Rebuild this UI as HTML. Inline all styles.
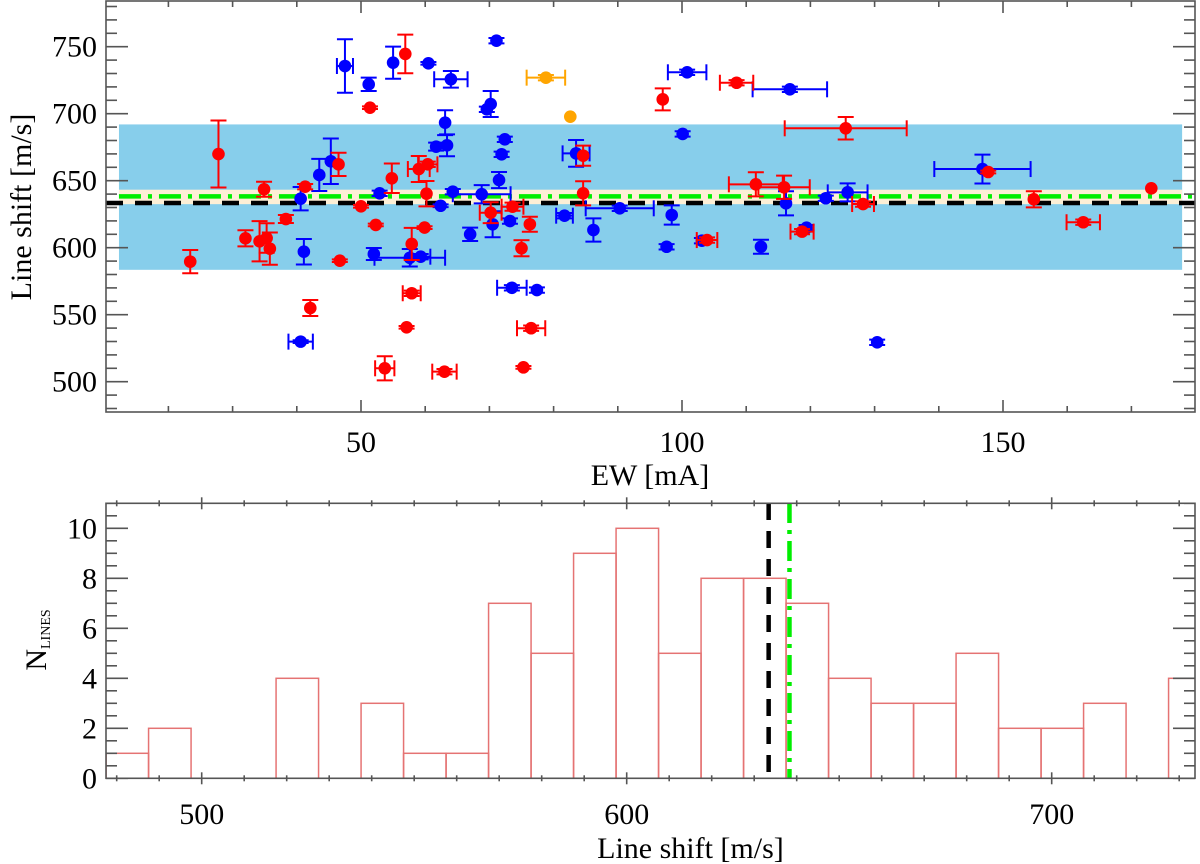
<!DOCTYPE html>
<html><head><meta charset="utf-8"><style>
html,body{margin:0;padding:0;background:#fff;}
svg{display:block;font-family:"Liberation Serif",serif;}
</style></head><body>
<svg id="fig" width="1200" height="864" viewBox="0 0 1200 864">
<defs>
<clipPath id="clipTop"><rect x="106" y="1" width="1089" height="411"/></clipPath>
<clipPath id="clipBot"><rect x="106" y="503" width="1089" height="276"/></clipPath>
</defs>
<g id="topG"></g>
<g id="botG"></g>
</svg>
<script>
// ---- scatter data (EW [mA], line shift [m/s], errors) ----
const blueEW    = [40.6,41.1,40.6,43.5,45.3,47.5,51.2,52.0,52.9,55.0,60.5,64.0,71.1,70.2,69.6,63.1,61.7,63.4,72.4,71.9,71.5,83.5,64.3,68.8,62.4,73.2,70.5,81.7,86.2,67.0,57.6,59.3,73.5,77.4,100.8,116.8,100.1,90.3,98.4,116.2,122.4,125.8,119.4,97.6,103.1,112.3,130.4,146.8];
const blueShift = [636.6,597,529.9,654.3,664.5,735.6,721.9,595.3,640.6,738.1,737.6,725.7,754.5,707.2,703.3,693.3,675.4,676.4,680.9,669.7,650.5,670.4,641.8,639.9,631.3,619.9,617.5,623.9,613.2,610,592.5,593.3,570.1,568.4,730.9,718.2,684.9,629.4,624.4,633.1,636.9,641.3,614.9,600.7,605.2,600.7,529.4,658.7];
const blueEWErr = [0,0,1.9,0,0,1.25,0,0,0,0,0,2.6,0,0,0,0,0,0,0,0,0,2.1,0,4.5,0,0,0,1.3,0,0,5.5,1.5,2.3,0,3,5.8,0,5.3,0,0,0,3.1,0,0,0,0,0,7.5];
const blueShErr = [8.7,9.5,1,12,17,20,5,4.5,2,12,1,6.2,2,9.7,2,9.3,3,8.2,2,2,6,10,2,6.8,1,2,9.7,2,8.7,5,6.5,2,2,2,2,2,2,2,7.2,9,2,6.7,2,2,2,5.2,2,10.8];

const redEW    = [23.4,27.8,34.9,32.0,34.2,35.3,35.8,38.3,41.3,42.1,46.5,46.7,51.4,50.0,52.3,53.7,54.8,56.9,59.0,60.4,60.2,84.6,84.6,70.2,73.6,76.3,59.9,57.9,75.0,57.9,57.1,76.5,63.0,75.3,108.5,97.0,125.5,111.5,115.9,128.2,118.7,103.9,147.7,154.8,162.5,173.1];
const redShift = [589.6,669.9,643.6,607,604.8,607.2,599.3,621.4,645.5,555,662.2,590.3,704.5,630.9,617,510,651.8,744.6,658.7,662.2,640.3,640.6,668.7,626.1,630.6,617.5,615,602.8,599.6,566,540.6,539.9,507.5,510.7,723.1,710.7,689.1,647.3,645.1,632.6,612,605.7,656.5,636.1,619,644.3];
const redEWErr = [0,0,0,0,0,0,0,0,0,0,0,0,0,0,0,1.5,0,0,1.7,1.5,0,0,0,1.7,1.7,0,0,0,0,1.4,0,2.2,1.9,0,2.6,0,9.5,4.2,4,1.7,1.8,1.6,0,0,2.6,0];
const redShErr = [8.7,25,5.6,6,15,11,12,3,2,6,8.7,1,1,1,1,9,11,14.4,9.7,2,9.5,9,7.5,7.8,3,5.6,1,12,6,2,1,2,2,1,2,8.2,8.4,9,8.7,2,2,2,1,6,2,0];

const orangeEW    = [78.8,82.6];
const orangeShift = [726.9,697.8];
const orangeEWErr = [3,0];
const orangeShErr = [2,0];

const meanShift = 633.4, medianShift = 638.3;
const bandLow = 583.5, bandHigh = 692, band2Low = 632.5, band2High = 643.3;

const xTickVals = [50,100,150];
const yTickVals = [500,550,600,650,700,750];

// ---- histogram data ----
const binStart = 477.5, binWidth = 10;
const binCounts = [1,2,0,0,4,0,3,1,1,7,5,9,10,5,8,8,7,4,3,3,5,2,2,3,0,4];
const hxTickVals = [500,600,700];
const hyTickVals = [0,2,4,6,8,10];

const NS = "http://www.w3.org/2000/svg";
function mk(parent, tag, attrs, text){
  const e = document.createElementNS(NS, tag);
  for (const k in attrs) e.setAttribute(k, attrs[k]);
  if (text !== undefined) e.textContent = text;
  parent.appendChild(e);
  return e;
}
const xs = e => 361 + (e - 50) * 6.42;
const ys = v => 46.7 + (750 - v) * 1.34;
const hx = v => 201.7 + (v - 500) * 4.25;
const hy = n => 778.3 - n * 25;

const topPanel = document.getElementById('topG');
const pl = mk(topPanel, 'g', {'clip-path':'url(#clipTop)'});



let r = mk(pl, 'rect', {x:xs(12.3), y:ys(bandHigh), width:xs(177.9)-xs(12.3), height:ys(bandLow)-ys(bandHigh), fill:'#87ceeb'});


r = mk(pl, 'rect', {x:xs(12.3), y:ys(band2High), width:xs(177.9)-xs(12.3), height:ys(band2Low)-ys(band2High), fill:'#fdefd6'});


let ln = mk(pl, 'line', {x1:106, x2:1195, y1:ys(meanShift), y2:ys(meanShift), stroke:'#000', 'stroke-width':4.5, 'stroke-dasharray':'17,12'});


ln = mk(pl, 'line', {x1:xs(12.3), x2:1195, y1:ys(medianShift), y2:ys(medianShift), stroke:'#00ee00', 'stroke-width':4.5, 'stroke-dasharray':'22,7,4,7'});



function series(ew, sh, ex, ey, col, name){
  const g = mk(pl, 'g', {});
  
  
  for (let i = 0; i < ew.length; i++){
    const cx = xs(ew[i]), cy = ys(sh[i]);
    const pg = mk(g, 'g', {stroke:col, 'stroke-width':2, fill:col});
    
    
    if (ey[i] > 0){
      const y1 = ys(sh[i] + ey[i]), y2 = ys(sh[i] - ey[i]);
      mk(pg, 'line', {x1:cx, x2:cx, y1:y1, y2:y2});
      mk(pg, 'line', {x1:cx-8, x2:cx+8, y1:y1, y2:y1});
      mk(pg, 'line', {x1:cx-8, x2:cx+8, y1:y2, y2:y2});
    }
    if (ex[i] > 0){
      const x1 = xs(ew[i] - ex[i]), x2 = xs(ew[i] + ex[i]);
      mk(pg, 'line', {x1:x1, x2:x2, y1:cy, y2:cy});
      mk(pg, 'line', {x1:x1, x2:x1, y1:cy-8, y2:cy+8});
      mk(pg, 'line', {x1:x2, x2:x2, y1:cy-8, y2:cy+8});
    }
    mk(pg, 'circle', {cx:cx, cy:cy, r:6.3, stroke:'none'});
  }
}
series(blueEW, blueShift, blueEWErr, blueShErr, '#0000ff', 'blue-series');
series(redEW, redShift, redEWErr, redShErr, '#ff0000', 'red-series');
series(orangeEW, orangeShift, orangeEWErr, orangeShErr, '#ffa500', 'orange-series');

const ax = mk(topPanel, 'g', {stroke:'#555', 'stroke-width':1.6, fill:'none'});


mk(ax, 'rect', {x:106, y:1, width:1089, height:411});
for (let v = 480; v <= 780; v += 10){
  const y = ys(v), L = (v % 50 === 0) ? 22 : 11;
  mk(ax, 'line', {x1:106, x2:106+L, y1:y, y2:y});
  mk(ax, 'line', {x1:1195, x2:1195-L, y1:y, y2:y});
}
for (let e = 20; e <= 170; e += 10){
  const x = xs(e), L = (e % 50 === 0) ? 12 : 6;
  mk(ax, 'line', {x1:x, x2:x, y1:412, y2:412-L});
  mk(ax, 'line', {x1:x, x2:x, y1:1, y2:1+L});
}
const tl = mk(topPanel, 'g', {'font-size':30, fill:'#000'});


yTickVals.forEach(v => {
  const e = mk(tl, 'text', {x:97, y:ys(v)+10, 'text-anchor':'end'}, String(v));
  
  
});
xTickVals.forEach(v => {
  const e = mk(tl, 'text', {x:xs(v), y:452, 'text-anchor':'middle'}, String(v));
  
  
});
let tx = mk(topPanel, 'text', {x:650, y:485, 'text-anchor':'middle', 'font-size':30}, 'EW [mA]');


tx = mk(topPanel, 'text', {x:0, y:0, 'text-anchor':'middle', 'font-size':30, transform:'translate(31,207) rotate(-90)'}, 'Line shift [m/s]');



// ---- histogram ----
const botPanel = document.getElementById('botG');
const hp = mk(botPanel, 'g', {'clip-path':'url(#clipBot)'});


binCounts.forEach((c, i) => {
  const x0 = hx(binStart + i * binWidth), x1 = hx(binStart + (i + 1) * binWidth);
  const b = mk(hp, 'rect', {x:x0, y:hy(c), width:x1-x0, height:hy(0)-hy(c), fill:'none', stroke:'#e57373', 'stroke-width':1.5});
  
  
});
ln = mk(hp, 'line', {x1:hx(meanShift), x2:hx(meanShift), y1:503, y2:778, stroke:'#000', 'stroke-width':4.5, 'stroke-dasharray':'17,11'});


ln = mk(hp, 'line', {x1:hx(medianShift), x2:hx(medianShift), y1:503, y2:778, stroke:'#00ee00', 'stroke-width':4.5, 'stroke-dasharray':'20,7,4,7'});



const bx = mk(botPanel, 'g', {stroke:'#555', 'stroke-width':1.6, fill:'none'});


mk(bx, 'rect', {x:106, y:503.3, width:1089, height:275});
for (let n = 0; n <= 11; n += 0.5){
  const y = hy(n), L = (n % 2 === 0) ? 22 : 11;
  mk(bx, 'line', {x1:106, x2:106+L, y1:y, y2:y});
  mk(bx, 'line', {x1:1195, x2:1195-L, y1:y, y2:y});
}
for (let v = 480; v <= 730; v += 10){
  const x = hx(v), L = (v % 100 === 0) ? 12 : 6;
  mk(bx, 'line', {x1:x, x2:x, y1:778.3+L/2, y2:778.3-L/2});
  mk(bx, 'line', {x1:x, x2:x, y1:503.3-L/2, y2:503.3+L/2});
}
const bl = mk(botPanel, 'g', {'font-size':30, fill:'#000'});


hyTickVals.forEach(v => {
  const e = mk(bl, 'text', {x:97, y:hy(v)+10, 'text-anchor':'end'}, String(v));
  
  
});
hxTickVals.forEach(v => {
  const e = mk(bl, 'text', {x:hx(v), y:824, 'text-anchor':'middle'}, String(v));
  
  
});
tx = mk(botPanel, 'text', {x:hx(615), y:858, 'text-anchor':'middle', 'font-size':30}, 'Line shift [m/s]');


tx = mk(botPanel, 'text', {x:0, y:0, 'text-anchor':'middle', 'font-size':30, transform:'translate(46,640) rotate(-90)'});


mk(tx, 'tspan', {}, 'N');
mk(tx, 'tspan', {'font-size':14, dy:4}, 'LINES');
</script>
</body></html>
